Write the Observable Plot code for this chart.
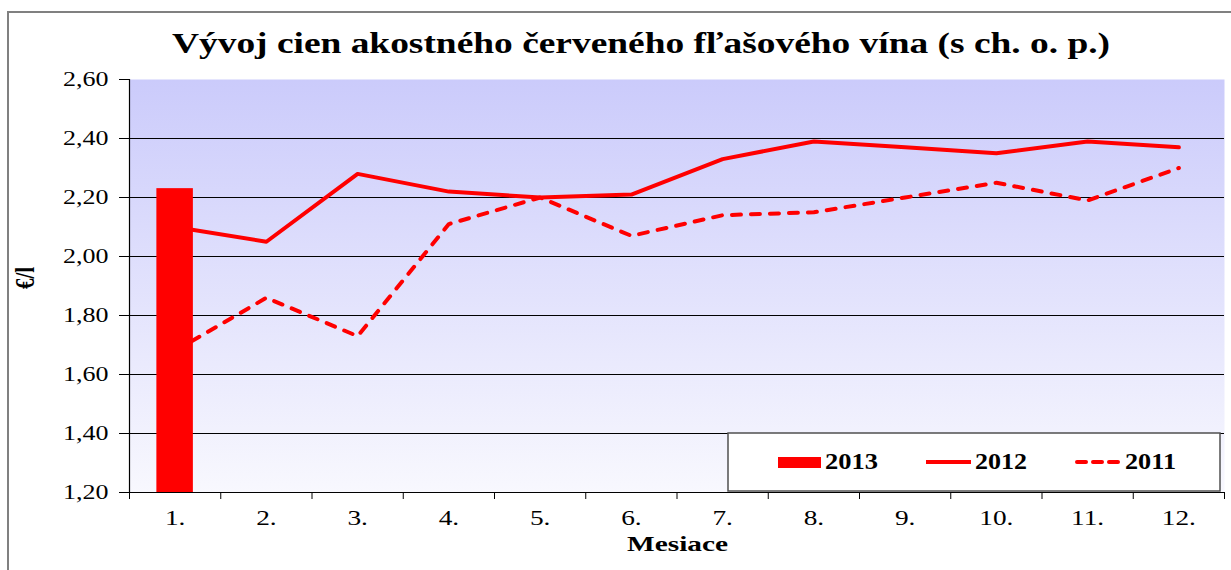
<!DOCTYPE html>
<html><head><meta charset="utf-8">
<script src="https://cdn.jsdelivr.net/npm/d3@7"></script>
<script src="https://cdn.jsdelivr.net/npm/@observablehq/plot@0.6"></script>
<style>
body{margin:0;background:#fff;}
#wrap{position:relative;width:1231px;height:570px;overflow:hidden;font-family:"Liberation Serif","Times New Roman",serif;background:#fff;}
#border{position:absolute;left:7px;top:11px;width:1300px;height:700px;border-top:2px solid #808080;border-left:2px solid #808080;box-sizing:border-box;}
#chart{position:absolute;left:0;top:0;}
#over{position:absolute;left:0;top:0;}
</style></head><body>
<div id="wrap"><div id="border"></div><div id="chart"></div>
<svg id="over" width="1231" height="570" xmlns="http://www.w3.org/2000/svg"></svg></div>
<script>
// ---- data ----
const months = [1,2,3,4,5,6,7,8,9,10,11,12];
const monthLabels = ["1.","2.","3.","4.","5.","6.","7.","8.","9.","10.","11.","12."];
const months2013 = [1];
const values2013 = [2.23];
const values2012 = [2.10,2.05,2.28,2.22,2.20,2.21,2.33,2.39,2.37,2.35,2.39,2.37];
const values2011 = [1.68,1.86,1.73,2.11,2.20,2.07,2.14,2.15,2.20,2.25,2.19,2.30];
const yTicks = [1.2,1.4,1.6,1.8,2.0,2.2,2.4,2.6];
const gridValues = [1.4,1.6,1.8,2.0,2.2,2.4];
const seriesNames = ["2013","2012","2011"];
const titleText = "Vývoj cien akostného červeného fľašového vína (s ch. o. p.)";
const xTitle = "Mesiace";
const yTitle = "€/l";

const d2013 = months2013.map((m,i)=>({month:m, value:values2013[i]}));
const d2012 = months.map((m,i)=>({month:m, value:values2012[i]}));
const d2011 = months.map((m,i)=>({month:m, value:values2011[i]}));
const boundaries = months.map(m=>m-0.5).concat([months[months.length-1]+0.5]);
const HS = 1.3; // horizontal text stretch of the original

const svg = Plot.plot({
  width:1231, height:570,
  marginLeft:129, marginRight:7, marginTop:79, marginBottom:78,
  style:{fontFamily:'"Liberation Serif","Times New Roman",serif', fontSize:"20px", color:"#000", background:"transparent", overflow:"visible"},
  x:{type:"linear", domain:[0.5,12.5]},
  y:{domain:[1.2,2.6]},
  marks:[
    Plot.frame({fill:"url(#bggrad)"}),
    Plot.ruleY(gridValues, {stroke:"#000", strokeWidth:1}),
    Plot.ruleY([1.2], {stroke:"#000", strokeWidth:1.2}),
    Plot.ruleX([0.5], {stroke:"#000", strokeWidth:1.2}),
    Plot.axisY(yTicks, {tickSize:10, tickPadding:11, tickFormat:d=>d.toFixed(2).replace(".",","), fontSize:20, label:null, stroke:"#000"}),
    Plot.axisX(boundaries, {tickSize:7, tickFormat:()=>"", label:null, stroke:"#000"}),
    Plot.axisX(months, {tickSize:0, tickPadding:18, tickFormat:d=>monthLabels[months.indexOf(d)], fontSize:21, label:null}),
    Plot.line(d2011, {x:"month", y:"value", stroke:"#ff0000", strokeWidth:4, strokeDasharray:"9,10", strokeLinecap:"round", strokeLinejoin:"round"}),
    Plot.line(d2012, {x:"month", y:"value", stroke:"#ff0000", strokeWidth:4, strokeLinejoin:"round"}),
    Plot.rectY(d2013, {x1:d=>d.month-0.2, x2:d=>d.month+0.2, y1:1.2, y2:"value", fill:"#ff0000"})
  ]
});
const ns = "http://www.w3.org/2000/svg";
const defs = document.createElementNS(ns,"defs");
defs.innerHTML = '<linearGradient id="bggrad" x1="0" y1="0" x2="0" y2="1"><stop offset="0" stop-color="#cbcbfb"/><stop offset="1" stop-color="#f8f8fe"/></linearGradient>';
svg.insertBefore(defs, svg.firstChild);
document.getElementById("chart").appendChild(svg);
svg.querySelectorAll("text").forEach(t=>{
  const L = t.getComputedTextLength();
  if (L>0){ t.setAttribute("textLength", (L*HS).toFixed(1)); t.setAttribute("lengthAdjust","spacingAndGlyphs"); }
});

// ---- overlay: title, axis titles, legend ----
const over = d3.select("#over").style("font-family",'"Liberation Serif","Times New Roman",serif');
over.append("text").attr("x",172).attr("y",53).attr("font-size",29).attr("font-weight","bold")
  .attr("textLength",938).attr("lengthAdjust","spacingAndGlyphs").text(titleText);
over.append("text").attr("x",627).attr("y",551).attr("font-size",22).attr("font-weight","bold")
  .attr("textLength",101).attr("lengthAdjust","spacingAndGlyphs").text(xTitle);
over.append("text").attr("transform","translate(34,278) scale(1.3,1) rotate(-90)").attr("text-anchor","middle")
  .attr("font-size",21).attr("font-weight","bold").text(yTitle);

const lg = over.append("g");
lg.append("rect").attr("x",728).attr("y",433).attr("width",492).attr("height",58)
  .attr("fill","#fff").attr("stroke","#505050").attr("stroke-width",1.5);
lg.append("rect").attr("x",778).attr("y",457).attr("width",43).attr("height",11).attr("fill","#ff0000");
lg.append("line").attr("x1",926).attr("x2",971).attr("y1",462).attr("y2",462).attr("stroke","#ff0000").attr("stroke-width",4);
lg.append("line").attr("x1",1077).attr("x2",1120).attr("y1",462).attr("y2",462).attr("stroke","#ff0000").attr("stroke-width",4)
  .attr("stroke-dasharray","9,7").attr("stroke-linecap","round");
const lgText = [[825,53],[975,52],[1125,51]];
seriesNames.forEach((s,i)=>{
  lg.append("text").attr("x",lgText[i][0]).attr("y",469).attr("font-size",23).attr("font-weight","bold")
    .attr("textLength",lgText[i][1]).attr("lengthAdjust","spacingAndGlyphs").text(s);
});
</script></body></html>
